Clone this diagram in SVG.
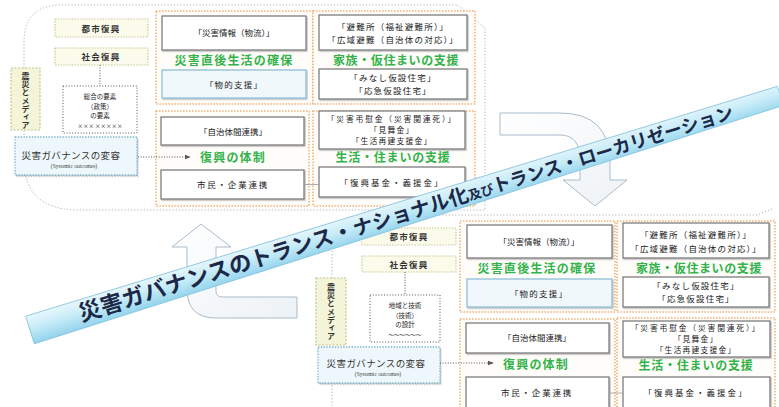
<svg xmlns="http://www.w3.org/2000/svg" width="779" height="407" viewBox="0 0 779 407">
<style>
text{font-family:"Noto Sans CJK JP","Noto Sans",sans-serif;}
.panel{fill:none;stroke:#b0b0b0;stroke-width:1;stroke-dasharray:1.2 2;}
.grp{fill:#fffdfa;stroke:#f1b47c;stroke-width:1.6;stroke-dasharray:1.6 1.4;}
.box{fill:#ffffff;stroke:#7d7d7d;stroke-width:1.3;filter:url(#sh);}
.boxb{fill:#f1f8fc;stroke:#8fbdd6;stroke-width:1.3;filter:url(#sh);}
.rec{fill:#fbfbec;stroke:#c5c590;stroke-width:1.2;stroke-dasharray:1.4 1.4;}
.media{fill:#f4f4d8;stroke:#c4c48a;stroke-width:1.2;stroke-dasharray:2 1.5;}
.gov{fill:#eef7fb;stroke:#7fb2c9;stroke-width:1.3;stroke-dasharray:1.4 1.4;filter:url(#sh);}
.dotbox{fill:#ffffff;stroke:#555;stroke-width:1;stroke-dasharray:1 1.8;}
.t{font-size:8.5px;fill:#222;text-anchor:middle;}
.rt{font-size:8.5px;fill:#222;text-anchor:middle;letter-spacing:1.2px;}
.st{font-size:7.8px;fill:#222;text-anchor:middle;letter-spacing:1.2px;}
.g{font-size:12px;font-weight:700;fill:#33b34a;text-anchor:middle;letter-spacing:1.2px;}
.rc{font-size:8.5px;font-weight:700;fill:#333;text-anchor:middle;letter-spacing:1.2px;}
.gz{font-size:6.5px;fill:#222;text-anchor:middle;}
.gv{font-size:9.5px;fill:#333;text-anchor:middle;letter-spacing:0.4px;}
.sy{font-family:"Liberation Serif",serif;font-size:5.5px;fill:#444;text-anchor:middle;}
.md{font-size:8px;font-weight:700;fill:#333;writing-mode:vertical-rl;letter-spacing:0.2px;}
.dl{fill:none;stroke:#555;stroke-width:1;stroke-dasharray:1 1.6;}
.blk{fill:url(#ag);stroke:#a9bccb;stroke-width:1;}
</style>
<defs>
<filter id="sh" x="-10%" y="-10%" width="120%" height="130%"><feDropShadow dx="1" dy="1.2" stdDeviation="0.6" flood-color="#000" flood-opacity="0.25"/></filter>
<marker id="ah" viewBox="0 0 8 8" refX="7" refY="4" markerWidth="6" markerHeight="6" orient="auto"><path d="M0,1 L8,4 L0,7 Z" fill="#555"/></marker>
<linearGradient id="ag" x1="0" y1="0" x2="1" y2="1"><stop offset="0" stop-color="#ffffff"/><stop offset="1" stop-color="#edf2f6"/></linearGradient>
<linearGradient id="bg" x1="0" y1="0" x2="0" y2="1"><stop offset="0" stop-color="#e8f7fd"/><stop offset="0.45" stop-color="#c8ecf8"/><stop offset="1" stop-color="#92d3ec"/></linearGradient>
</defs>

<g id="panel-outlines">
<path class="panel" d="M62,5 H458 L485,28 V210 H75 Q24,208 24,160 V42 Q24,5 62,5 Z"/>
<path class="panel" d="M372,215 H757 L772,209 M372,215 Q332,215 332,255 V407"/>
</g>

<!-- Upper panel -->
<g id="u-toshi"><rect class="rec" x="55" y="19" width="93" height="18"/><text class="rc" x="101" y="31.5">都市復興</text></g>
<g id="u-shakai"><rect class="rec" x="55" y="48" width="93" height="17"/><text class="rc" x="101" y="60">社会復興</text></g>
<g id="u-factors"><rect class="dotbox" x="63" y="86" width="74" height="47"/>
<text class="gz" x="100" y="99">総合の要素</text><text class="gz" x="100" y="108.5">（政策）</text><text class="gz" x="100" y="118">の要素</text><text class="gz" x="100" y="127.5" style="font-size:5.5px">××× ×××××</text></g>
<g id="u-media"><rect class="media" x="11" y="68" width="29" height="62"/><text class="md" x="25.5" y="72">震災とメディア</text></g>
<g id="u-gov"><rect class="gov" x="15" y="137" width="122" height="38"/><text class="gv" x="71" y="159">災害ガバナンスの変容</text><text class="sy" x="74" y="168">(Systemic outcomes)</text></g>

<g id="u-grp1"><rect class="grp" x="156" y="11" width="157" height="93"/>
<rect class="box" x="162" y="16" width="144" height="34"/><text class="t" x="234" y="36">「災害情報（物流）」</text>
<text class="g" x="234" y="65">災害直後生活の確保</text>
<rect class="boxb" x="162" y="70" width="144" height="28"/><text class="rt" x="234" y="87.5">「物的支援」</text></g>

<g id="u-grp2"><rect class="grp" x="313" y="11" width="162" height="93"/>
<rect class="box" x="319" y="15" width="148" height="35"/><text class="rt" x="393" y="29.5">「避難所（福祉避難所）」</text><text class="rt" x="393" y="43">「広域避難（自治体の対応）」</text>
<text class="g" x="396" y="65" style="letter-spacing:0.6px">家族・仮住まいの支援</text>
<rect class="box" x="319" y="69" width="148" height="30"/><text class="rt" x="393" y="81">「みなし仮設住宅」</text><text class="rt" x="393" y="94">「応急仮設住宅」</text></g>

<g id="u-grp3"><rect class="grp" x="156" y="111" width="153" height="95"/>
<rect class="box" x="161" y="117" width="143" height="28"/><text class="t" x="233" y="134.5">「自治体間連携」</text>
<text class="g" x="233" y="162">復興の体制</text>
<rect class="box" x="161" y="170" width="143" height="29"/><text class="rt" x="233" y="188" style="letter-spacing:1.8px">市民・企業連携</text></g>

<g id="u-grp4"><rect class="grp" x="313" y="111" width="162" height="95"/>
<rect class="box" x="319" y="111" width="146" height="38"/><text class="st" x="392" y="121.5" style="letter-spacing:1.8px">「災害弔慰金（災害関連死）」</text><text class="st" x="392" y="132.5">「見舞金」</text><text class="st" x="392" y="143.5">「生活再建支援金」</text>
<text class="g" x="393" y="161.5" style="letter-spacing:0.8px">生活・住まいの支援</text>
<rect class="box" x="319" y="167" width="146" height="30"/><text class="rt" x="392" y="185.5" style="letter-spacing:2px">「復興基金・義援金」</text></g>

<!-- Lower panel -->
<g id="l-toshi"><rect class="rec" x="362" y="228" width="94" height="17"/><text class="rc" x="409" y="240">都市復興</text></g>
<g id="l-shakai"><rect class="rec" x="362" y="256" width="94" height="16"/><text class="rc" x="409" y="267.5">社会復興</text></g>
<g id="l-factors"><rect class="dotbox" x="370" y="295" width="70" height="47"/>
<text class="gz" x="405" y="308">地域と技術</text><text class="gz" x="405" y="317.5">（技術）</text><text class="gz" x="405" y="327">の設計</text><text class="gz" x="405" y="336.5" style="font-size:5.5px">〜〜〜〜〜〜</text></g>
<g id="l-media"><rect class="media" x="316" y="278" width="30" height="67"/><text class="md" x="331" y="283">震災とメディア</text></g>
<g id="l-gov"><rect class="gov" x="318" y="347" width="122" height="36"/><text class="gv" x="376" y="367">災害ガバナンスの変容</text><text class="sy" x="378" y="376">(Systemic outcomes)</text></g>

<g id="l-grp1"><rect class="grp" x="460" y="221" width="155" height="91"/>
<rect class="box" x="467" y="225" width="145" height="33"/><text class="t" x="539" y="245">「災害情報（物流）」</text>
<text class="g" x="537" y="272.5">災害直後生活の確保</text>
<rect class="boxb" x="467" y="279" width="145" height="28"/><text class="rt" x="539" y="296.5">「物的支援」</text></g>

<g id="l-grp2"><rect class="grp" x="617" y="221" width="158" height="91"/>
<rect class="box" x="623" y="223" width="146" height="35"/><text class="rt" x="696" y="238">「避難所（福祉避難所）」</text><text class="rt" x="696" y="251.5">「広域避難（自治体の対応）」</text>
<text class="g" x="699" y="272.5" style="letter-spacing:0.6px">家族・仮住まいの支援</text>
<rect class="box" x="623" y="277" width="146" height="30"/><text class="rt" x="696" y="289">「みなし仮設住宅」</text><text class="rt" x="696" y="302">「応急仮設住宅」</text></g>

<g id="l-grp3"><rect class="grp" x="460" y="319" width="155" height="95"/>
<rect class="box" x="466" y="323" width="143" height="30"/><text class="t" x="537" y="341">「自治体間連携」</text>
<text class="g" x="536" y="369">復興の体制</text>
<rect class="box" x="466" y="377" width="143" height="32"/><text class="rt" x="537" y="395.5" style="letter-spacing:1.8px">市民・企業連携</text></g>

<g id="l-grp4"><rect class="grp" x="617" y="318" width="158" height="95"/>
<rect class="box" x="623" y="321" width="147" height="36"/><text class="st" x="696" y="331" style="letter-spacing:1.8px">「災害弔慰金（災害関連死）」</text><text class="st" x="696" y="342">「見舞金」</text><text class="st" x="696" y="353">「生活再建支援金」</text>
<text class="g" x="696" y="370" style="letter-spacing:0.8px">生活・住まいの支援</text>
<rect class="box" x="623" y="377" width="147" height="32"/><text class="rt" x="696" y="395.5" style="letter-spacing:2px">「復興基金・義援金」</text></g>

<g id="connectors">
<line class="dl" x1="100" y1="65" x2="100" y2="86"/>
<line class="dl" x1="138" y1="157" x2="190" y2="157" marker-end="url(#ah)"/>
<line x1="304" y1="184.5" x2="319" y2="184.5" stroke="#999" stroke-width="0.8"/>
<line class="dl" x1="405" y1="272" x2="405" y2="295"/>
<line class="dl" x1="440" y1="363" x2="493" y2="363" marker-end="url(#ah)"/>
<line x1="609" y1="393" x2="623" y2="393" stroke="#999" stroke-width="0.8"/>
<path class="blk" d="M201,224 L231,247 L216,247 L216,291 Q216,297 222,297 L297,297 L297,318 L216,318 Q187,318 187,289 L187,247 L172,247 Z"/>
<path class="blk" d="M500,113 L560,113 Q610,113 610,163 L610,180 L627,180 L595,206 L563,180 L580,180 L580,160 Q580,135 560,135 L500,135 Z"/>
</g>

<g id="banner" transform="translate(30,330) rotate(-17.33)">
<path d="M0,-14.5 L786,-10 L786,10 L0,14.5 Z" fill="url(#bg)" stroke="#86c3dc" stroke-width="0.8"/>
<text x="52" y="7.5" font-weight="700" fill="#1c2848"><tspan font-size="22.5">災害ガバナンスの</tspan><tspan font-size="21.5">トランス・</tspan><tspan font-size="20">ナショナル化</tspan><tspan font-size="13">及び</tspan><tspan font-size="18">トランス・ローカリゼーション</tspan></text>
</g>
</svg>
